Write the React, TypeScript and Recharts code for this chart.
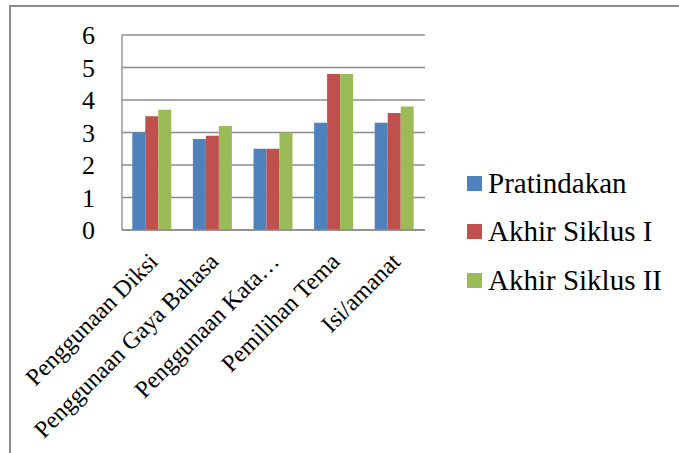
import React from 'react';
import { BarChart, Bar, XAxis, YAxis, CartesianGrid } from 'recharts';

const categories = [
  'Penggunaan Diksi',
  'Penggunaan Gaya Bahasa',
  'Penggunaan Kata…',
  'Pemilihan Tema',
  'Isi/amanat',
];
const pratindakan = [3, 2.8, 2.5, 3.3, 3.3];
const akhirSiklus1 = [3.5, 2.9, 2.5, 4.8, 3.6];
const akhirSiklus2 = [3.7, 3.2, 3.0, 4.8, 3.8];
const yTicks = [0, 1, 2, 3, 4, 5, 6];

const series = [
  { key: 'pratindakan', name: 'Pratindakan', color: '#4F81BD' },
  { key: 'siklus1', name: 'Akhir Siklus I', color: '#C0504D' },
  { key: 'siklus2', name: 'Akhir Siklus II', color: '#9BBB59' },
];

const data = categories.map((name, i) => ({
  name,
  pratindakan: pratindakan[i],
  siklus1: akhirSiklus1[i],
  siklus2: akhirSiklus2[i],
}));

const FONT = 'Liberation Serif';
const GRID = '#8c8c8c';

// rotated category labels, end of text sits just right of the category centre
const XTick = (props: any) => {
  const { x, y, payload } = props;
  return (
    <g transform={`translate(${x + 7},${y + 33})`}>
      <text textAnchor="end" transform="rotate(-45)" fontSize={24} fill="#000" fontFamily={FONT}>
        {payload.value}
      </text>
    </g>
  );
};

export default function App() {
  return (
    <div style={{ position: 'absolute', left: 0, top: 0, width: 679, height: 453, background: '#fff', overflow: 'hidden', fontFamily: FONT }}>
      {/* chart frame */}
      <div
        style={{
          position: 'absolute',
          left: 9,
          top: 5,
          width: 680,
          height: 460,
          borderTop: `2px solid ${GRID}`,
          borderLeft: `2px solid ${GRID}`,
        }}
      />
      <BarChart
        width={679}
        height={453}
        data={data}
        margin={{ top: 35, right: 254, bottom: 0, left: 0 }}
        barCategoryGap="17%"
        barGap={0}
      >
        <CartesianGrid vertical={false} stroke={GRID} strokeWidth={1.3} />
        <XAxis
          dataKey="name"
          height={223}
          interval={0}
          tickSize={0}
          tickMargin={0}
          tick={<XTick />}
          axisLine={{ stroke: GRID, strokeWidth: 1.3 }}
          tickLine={false}
        />
        <YAxis
          width={122}
          domain={[0, 6]}
          ticks={yTicks}
          interval={0}
          tickSize={0}
          tickMargin={27}
          tickLine={false}
          axisLine={{ stroke: GRID, strokeWidth: 1.3 }}
          tick={{ fill: '#000', fontSize: 26, fontFamily: FONT }}
        />
        {series.map((s) => (
          <Bar key={s.key} dataKey={s.key} name={s.name} fill={s.color} isAnimationActive={false} />
        ))}
      </BarChart>
      {/* legend */}
      <div style={{ position: 'absolute', left: 467, top: 159 }}>
        {series.map((s) => (
          <div key={s.key} style={{ display: 'flex', alignItems: 'center', height: 48.5 }}>
            <span style={{ display: 'inline-block', width: 15, height: 15, background: s.color, marginRight: 6 }} />
            <span style={{ fontSize: 29, color: '#000', lineHeight: 1, fontFamily: FONT }}>{s.name}</span>
          </div>
        ))}
      </div>
    </div>
  );
}
